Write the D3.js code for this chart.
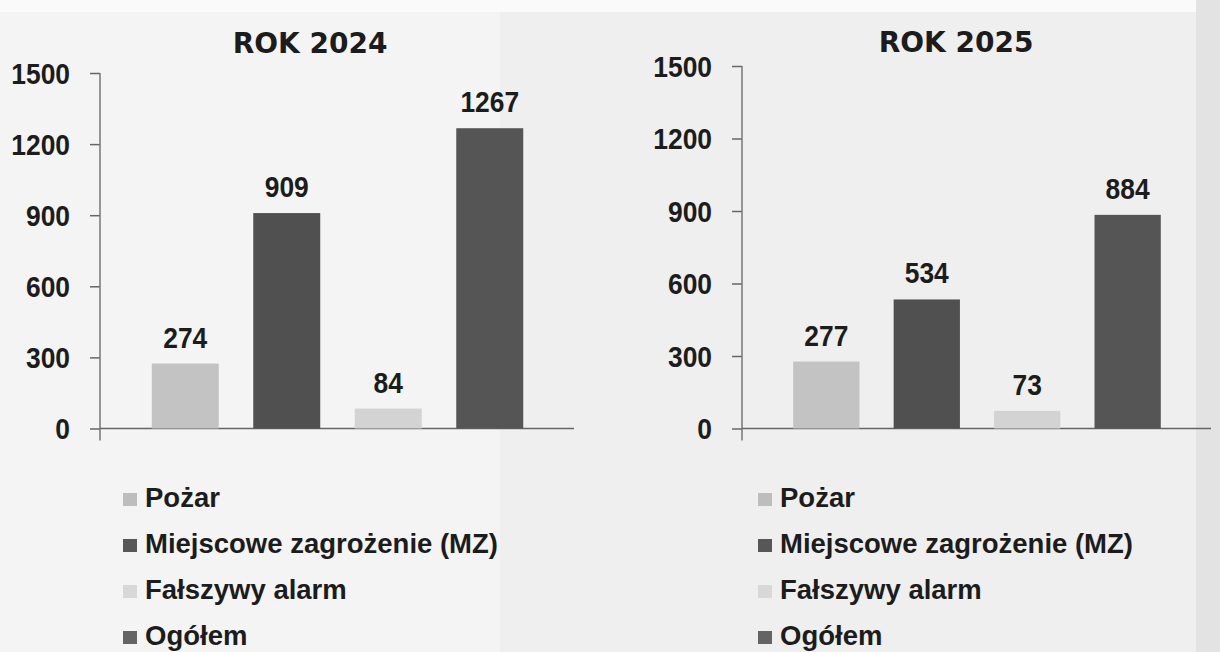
<!DOCTYPE html>
<html>
<head>
<meta charset="utf-8">
<script src="https://cdn.jsdelivr.net/npm/d3@7"></script>
<style>
  body { margin: 0; background: #f0f0f0; }
  svg { display: block; }
  .num { font-family: "Liberation Sans", Arial, sans-serif; font-weight: bold; font-size: 30px; fill: #1c1c1c; }
  .title { font-family: "DejaVu Sans", sans-serif; font-weight: bold; font-size: 28px; fill: #1c1c1c; }
  .legend { font-family: "Liberation Sans", Arial, sans-serif; font-weight: bold; font-size: 27.5px; fill: #1c1c1c; }
</style>
</head>
<body>
<svg id="chart" width="1220" height="652"></svg>
<script>
// categories and values
const categories = ["Pożar", "Miejscowe zagrożenie (MZ)", "Fałszywy alarm", "Ogółem"];
const years = ["ROK 2024", "ROK 2025"];
const values2024 = [274, 909, 84, 1267];
const values2025 = [277, 534, 73, 884];
const yTicks = [0, 300, 600, 900, 1200, 1500];
const colors = ["#c3c3c3", "#505050", "#d3d3d3", "#555555"];
const legendColors = ["#bdbdbd", "#575757", "#d8d8d8", "#646464"];

const svg = d3.select("#chart");

// scanned-page background
svg.append("rect").attr("width", 1220).attr("height", 652).attr("fill", "#efefef");
svg.append("rect").attr("width", 500).attr("height", 652).attr("fill", "#f4f4f4");
svg.append("rect").attr("width", 1220).attr("height", 12).attr("fill", "#fafafa");
svg.append("rect").attr("x", 1196).attr("width", 24).attr("height", 652).attr("fill", "#e3e3e3");

const panels = [
  { title: years[0], values: values2024, axisX: 100, xEnd: 574, yTop: 73, titleX: 310, titleY: 53, legendX: 145 },
  { title: years[1], values: values2025, axisX: 742, xEnd: 1211, yTop: 66, titleX: 956, titleY: 52, legendX: 780 },
];
const zeroY = 428.5;

// the numbers in the picture use a condensed face: squeeze the glyphs a little
function condense(sel) {
  sel.each(function () {
    const w = this.getComputedTextLength();
    d3.select(this).attr("textLength", w * 0.88).attr("lengthAdjust", "spacingAndGlyphs");
  });
}

panels.forEach((p) => {
  const g = svg.append("g");

  const x = d3.scaleBand()
    .domain(categories)
    .range([p.axisX + 1, p.xEnd])
    .paddingInner(0.34)
    .paddingOuter(0.5);

  const y = d3.scaleLinear().domain([0, 1500]).range([zeroY, p.yTop]);

  // y axis
  const yAxis = g.append("g")
    .attr("transform", `translate(${p.axisX},0)`)
    .call(d3.axisLeft(y).tickValues(yTicks).tickFormat(d3.format("d")).tickSize(10).tickPadding(20).tickSizeOuter(0));
  yAxis.select(".domain").remove();
  yAxis.selectAll(".tick line").attr("stroke", "#666").attr("stroke-width", 1.5);
  yAxis.selectAll(".tick text").attr("class", "num").attr("fill", null).attr("dy", "0.34em").call(condense);
  yAxis.append("line")
    .attr("y1", y(1500)).attr("y2", zeroY + 12)
    .attr("stroke", "#777").attr("stroke-width", 1.5);

  // baseline
  g.append("line")
    .attr("x1", p.axisX).attr("x2", p.xEnd)
    .attr("y1", zeroY).attr("y2", zeroY)
    .attr("stroke", "#666").attr("stroke-width", 1.5);

  // bars
  g.selectAll(".bar")
    .data(categories)
    .enter()
    .append("rect")
    .attr("class", "bar")
    .attr("x", (d) => x(d))
    .attr("width", x.bandwidth())
    .attr("y", (d, i) => y(p.values[i]))
    .attr("height", (d, i) => zeroY - y(p.values[i]))
    .attr("fill", (d, i) => colors[i]);

  // value labels
  g.selectAll(".val")
    .data(categories)
    .enter()
    .append("text")
    .attr("class", "num")
    .attr("x", (d) => x(d) + x.bandwidth() / 2)
    .attr("y", (d, i) => y(p.values[i]) - 16)
    .attr("text-anchor", "middle")
    .text((d, i) => p.values[i])
    .call(condense);

  // title
  g.append("text")
    .attr("class", "title")
    .attr("x", p.titleX)
    .attr("y", p.titleY)
    .attr("text-anchor", "middle")
    .text(p.title);

  // legend
  const legendY = d3.scalePoint().domain(categories).range([507, 645]);
  const items = g.selectAll(".leg")
    .data(categories)
    .enter()
    .append("g")
    .attr("transform", (d) => `translate(${p.legendX},${legendY(d)})`);
  items.append("rect")
    .attr("x", -22).attr("y", -14)
    .attr("width", 14).attr("height", 13)
    .attr("fill", (d, i) => legendColors[i]);
  items.append("text")
    .attr("class", "legend")
    .text((d) => d);
});
</script>
</body>
</html>
